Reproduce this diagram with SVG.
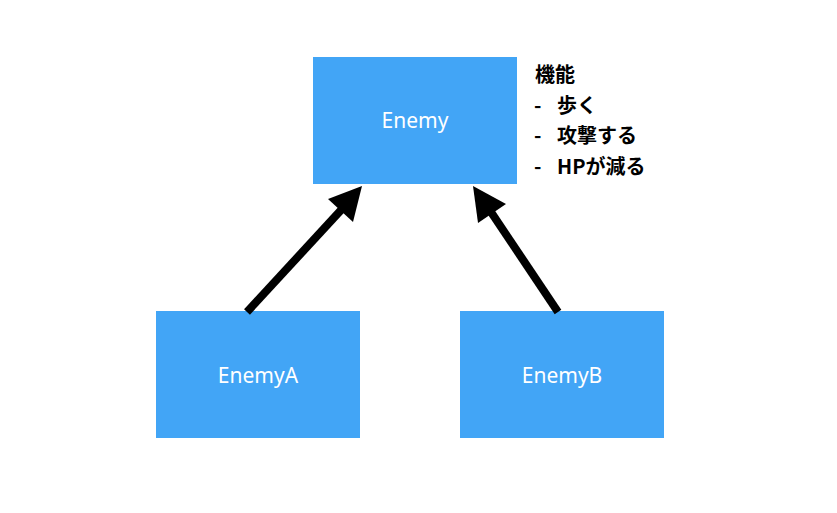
<svg xmlns="http://www.w3.org/2000/svg" width="837" height="513" viewBox="0 0 837 513">
<style>
.node{fill:#42A5F6}
.lbl{font-family:"Noto Sans","Liberation Sans","Noto Sans CJK JP",sans-serif;font-size:21px;fill:#fff;text-anchor:middle}
.note{font-family:"Noto Sans CJK JP","Liberation Sans",sans-serif;font-size:20px;font-weight:bold;fill:#000}
.ln{stroke:#000;stroke-width:8;fill:none}
.hd{fill:#000}
</style>
<rect width="837" height="513" fill="#fff"/>
<g id="enemy">
<rect class="node" x="313" y="57" width="204" height="127"/>
<text class="lbl" x="415" y="128">Enemy</text>
</g>
<g id="enemyA">
<rect class="node" x="156" y="311" width="204" height="127"/>
<text class="lbl" x="258" y="383">EnemyA</text>
</g>
<g id="enemyB">
<rect class="node" x="460" y="311" width="204" height="127"/>
<text class="lbl" x="562" y="383">EnemyB</text>
</g>
<g id="note">
<text class="note" x="535" y="82">機能</text>
<text class="note" x="534" y="113">-</text><text class="note" x="557" y="113">歩く</text>
<text class="note" x="534" y="143">-</text><text class="note" x="557" y="143">攻撃する</text>
<text class="note" x="534" y="174">-</text><text class="note" x="557" y="174">HPが減る</text>
</g>
<g id="connectors">
<line class="ln" x1="247" y1="312" x2="342" y2="209"/>
<polygon class="hd" points="362,186 328,199 353,222"/>
<line class="ln" x1="558" y1="312" x2="491" y2="212"/>
<polygon class="hd" points="473,186 478,223 506,204"/>
</g>
</svg>
